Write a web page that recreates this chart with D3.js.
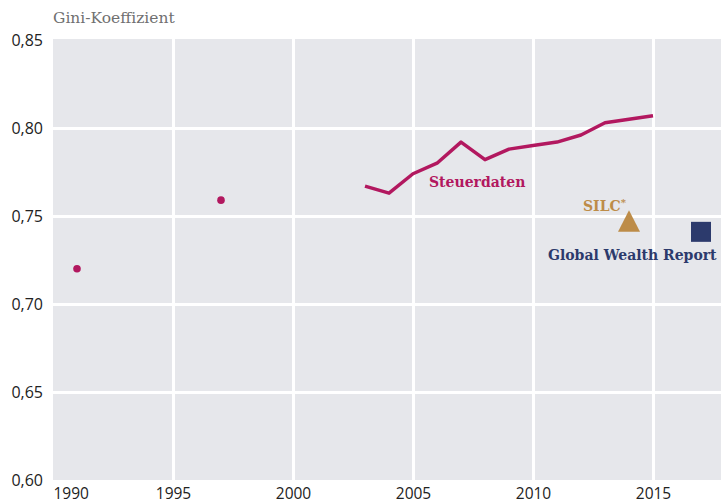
<!DOCTYPE html>
<html><head><meta charset="utf-8">
<script src="https://cdn.jsdelivr.net/npm/d3@7"></script>
<style>
body{margin:0;background:#fff;}
svg{display:block;}
.tick text{font-family:"Open Sans",sans-serif;font-size:16px;fill:#222;}
.lbl{font-family:"DejaVu Serif",serif;font-weight:bold;}
</style></head>
<body><svg id="c" width="721" height="504"></svg>
<script>
// ---- data ----
const lineYears = [2003,2004,2005,2006,2007,2008,2009,2010,2011,2012,2013,2014,2015];
const steuerdaten = [0.767,0.763,0.774,0.780,0.792,0.782,0.788,0.790,0.792,0.796,0.803,0.805,0.807];
const dotYears = [1991,1997];
const dotValues = [0.720,0.759];
const silcYear = 2014, silcValue = 0.747;
const gwrYear = 2017, gwrValue = 0.741;
const xTicks = [1990,1995,2000,2005,2010,2015];
const yTicks = [0.60,0.65,0.70,0.75,0.80,0.85];

const W = 721, H = 504;
const pL = 53, pR = 721, pT = 40, pB = 480;
const svg = d3.select("#c");
const x = d3.scaleLinear().domain([1990, 1990 + (pR-pL)/24]).range([pL, pR]);
const y = d3.scaleLinear().domain([0.60, 0.85]).range([pB, pT]);

const magenta = "#b2185f", gold = "#bd8c48", navy = "#2c3a6c";

svg.append("rect").attr("x", pL).attr("y", pT-1).attr("width", pR-pL).attr("height", pB-pT+1).attr("fill", "#e6e7eb");

// grid
const gy = svg.append("g").attr("transform", `translate(${pL},0)`)
  .call(d3.axisLeft(y).tickValues(yTicks.filter(v=>v>0.6&&v<0.85)).tickSize(-(pR-pL)).tickFormat(""));
gy.select(".domain").remove();
gy.selectAll("line").attr("stroke", "#fff").attr("stroke-width", 3);
const gx = svg.append("g").attr("transform", `translate(0,${pB})`)
  .call(d3.axisBottom(x).tickValues(xTicks.filter(v=>v>1990)).tickSize(-(pB-pT+1)).tickFormat(""));
gx.select(".domain").remove();
gx.selectAll("line").attr("stroke", "#fff").attr("stroke-width", 3);

// axes labels
const fmt = v => d3.format(".2f")(v).replace(".", ",");
const ay = svg.append("g").attr("transform", `translate(${pL-10},0)`)
  .call(d3.axisLeft(y).tickValues(yTicks).tickSize(0).tickPadding(0).tickFormat(fmt));
ay.select(".domain").remove();
const ax = svg.append("g").attr("transform", `translate(0,${pB})`)
  .call(d3.axisBottom(x).tickValues(xTicks).tickSize(0).tickPadding(0).tickFormat(d3.format("d")));
ax.select(".domain").remove();
ax.selectAll("text").attr("dy", null).attr("y", 18.5).style("font-size", "15.5px");
ax.selectAll(".tick").filter(d => d === 1990).select("text").attr("text-anchor", "start");

// title
svg.append("text").attr("x", pL).attr("y", 23).text("Gini-Koeffizient")
  .attr("font-family", "DejaVu Serif, serif").attr("font-size", 15.5).attr("fill", "#707070");

// line
svg.append("path").datum(lineYears.map((yr,i)=>[yr, steuerdaten[i]]))
  .attr("d", d3.line().x(d=>x(d[0])).y(d=>y(d[1])))
  .attr("fill", "none").attr("stroke", magenta).attr("stroke-width", 3.5).attr("stroke-linejoin", "round");

// dots
svg.selectAll("circle.dot").data(dotYears.map((yr,i)=>[yr, dotValues[i]])).join("circle")
  .attr("cx", d=>x(d[0])).attr("cy", d=>y(d[1])).attr("r", 3.8).attr("fill", magenta);

// SILC triangle
const tx = x(silcYear), ty = y(silcValue);
svg.append("path").attr("d", `M${tx},${ty-11}L${tx+11},${ty+10.5}L${tx-11},${ty+10.5}Z`).attr("fill", gold);
// GWR square
const sx = x(gwrYear), sy = y(gwrValue);
svg.append("rect").attr("x", sx-10).attr("y", sy-10).attr("width", 20).attr("height", 20).attr("fill", navy);

// labels
svg.append("text").attr("class","lbl").attr("x", 429).attr("y", 187).attr("font-size", 14).attr("fill", magenta).text("Steuerdaten");
const st = svg.append("text").attr("class","lbl").attr("x", tx-46).attr("y", 211).attr("font-size", 14).attr("fill", gold);
st.append("tspan").text("SILC");
st.append("tspan").attr("dy", -5).attr("font-size", 10).text("*");
svg.append("text").attr("class","lbl").attr("x", 548).attr("y", 260).attr("font-size", 14).attr("fill", navy).text("Global Wealth Report");
</script></body></html>
